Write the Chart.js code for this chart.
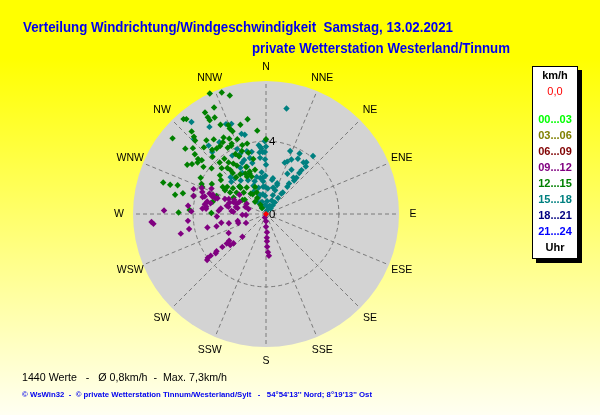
<!DOCTYPE html>
<html>
<head>
<meta charset="utf-8">
<script src="https://cdn.jsdelivr.net/npm/chart.js@4/dist/chart.umd.min.js"></script>
<style>
  body { margin: 0; }
  #wrap {
    width: 600px; height: 415px;
    background: linear-gradient(#ffff00 0%, #ffff00 14%, #fffff2 100%);
  }
</style>
</head>
<body>
<div id="wrap"><canvas id="rose" width="600" height="415"></canvas></div>
<script>
// wind rose, 13.02.2021 - direction in degrees (0 = N), speed in km/h
const directions = ["N", "NNE", "NE", "ENE", "E", "ESE", "SE", "SSE",
  "S", "SSW", "SW", "WSW", "W", "WNW", "NW", "NNW"];
const ringTicks = [0, 4];
const maxSpeed = 7.3;

const periodLabels = ["00...03", "03...06", "06...09", "09...12", "12...15", "15...18", "18...21", "21...24"];
const periodColors = ["#00ff00", "#808000", "#800000", "#800080", "#008000", "#008080", "#000080", "#0000ff"];

// calm values (0,0)
const calmDir = [0];
const calmSpeed = [0];

const dir0003 = [], speed0003 = [];
const dir0306 = [], speed0306 = [];
const dir0609 = [], speed0609 = [];

const dir0912 = [272, 266, 265, 276, 272, 265, 259, 257, 284, 285, 279, 282, 281, 288, 275, 275,
  274, 267, 259, 257, 256, 256, 243, 256, 252, 246, 287, 290, 294, 289, 282, 295, 281, 275, 289,
  286, 267, 226, 228, 233, 234, 229, 233, 233, 232, 233, 233, 232, 198, 180, 180, 177, 178, 178,
  178, 177, 176, 289, 292, 289, 286, 290, 295, 290, 287, 277, 277, 292, 283, 282, 274, 306, 290,
  288, 298, 268];
const speed0912 = [5.6, 6.3, 6.2, 4.3, 4.1, 4.3, 4.3, 4.8, 4.1, 3.6, 3.4, 3.3, 3.1, 3.1, 3.5, 3.3,
  2.6, 2.7, 2.5, 3.3, 2.8, 2.1, 2.3, 1.6, 1.6, 1.2, 2.1, 1.9, 1.9, 1.7, 1.6, 1.6, 2.1, 1.9, 1.2,
  1.0, 1.1, 1.8, 2.4, 2.7, 2.5, 2.6, 3.0, 3.4, 3.5, 3.8, 4.0, 4.1, 0.2, 0.4, 0.7, 1.0, 1.3, 1.5,
  1.8, 2.1, 2.3, 4.2, 3.8, 3.7, 3.5, 3.3, 3.3, 3.1, 2.9, 3.3, 2.5, 2.2, 1.7, 2.2, 1.8, 1.8, 2.4,
  2.8, 1.2, 1.3];

const dir1215 = [335, 340, 343, 334, 329, 329, 329, 332, 319, 320, 349, 333, 344, 337, 337, 354,
  318, 309, 338, 339, 317, 316, 321, 325, 331, 329, 326, 334, 334, 341, 345, 0, 309, 312, 317,
  320, 323, 330, 333, 333, 339, 335, 344, 347, 310, 309, 307, 310, 307, 302, 304, 317, 310, 318,
  323, 324, 327, 329, 316, 299, 310, 320, 321, 321, 321, 327, 337, 338, 333, 339, 346, 287, 287,
  288, 282, 284, 284, 295, 299, 293, 307, 302, 300, 305, 301, 308, 306, 316, 314, 324, 323, 338,
  337, 290, 283, 273, 271, 271, 301, 297, 329, 326, 331, 326, 318, 304, 316, 333, 339];
const speed1215 = [7.3, 7.1, 6.8, 6.5, 6.5, 6.2, 6.0, 6.0, 6.9, 6.8, 5.3, 5.5, 5.1, 5.3, 5.1, 4.6,
  6.1, 6.6, 4.9, 4.4, 5.8, 5.6, 5.2, 5.0, 4.8, 4.6, 4.5, 4.6, 4.3, 4.0, 4.0, 4.1, 5.7, 5.4, 5.0,
  4.6, 4.5, 4.2, 4.2, 3.7, 3.7, 3.5, 3.5, 3.1, 5.1, 4.8, 4.7, 4.6, 4.3, 5.1, 4.9, 4.3, 3.9, 3.8,
  3.8, 3.5, 3.3, 3.1, 3.5, 4.1, 3.3, 3.3, 3.1, 2.9, 2.6, 2.6, 2.8, 2.4, 2.3, 2.2, 2.5, 5.9, 5.5,
  5.1, 5.1, 4.7, 4.1, 3.9, 3.4, 3.8, 3.1, 2.8, 2.6, 2.6, 2.3, 2.3, 2.0, 2.1, 1.7, 1.8, 1.4, 1.6,
  1.3, 2.9, 3.0, 4.2, 4.8, 3.0, 1.5, 2.0, 0.6, 0.4, 1.0, 1.3, 0.9, 1.4, 2.0, 2.5, 2.5];

const dir1518 = [11, 39, 29, 30, 36, 40, 38, 39, 39, 40, 40, 21, 22, 30, 28, 37, 37, 38, 38, 37,
  37, 37, 38, 40, 21, 21, 20, 23, 24, 11, 359, 0, 359, 359, 0, 359, 355, 358, 355, 354, 354, 354,
  355, 346, 341, 343, 326, 330, 357, 5, 18, 331, 345, 321, 327, 336, 339, 343, 345, 316, 320, 327,
  336, 337, 338, 343, 344, 354, 356, 357, 330, 323, 332, 336, 344, 338, 20, 25, 10, 15, 20, 319,
  330, 335, 335, 331, 347, 316, 313, 319, 316, 351, 354, 4, 342, 354, 14, 335, 351];
const speed1518 = [5.9, 4.1, 3.8, 3.5, 3.5, 3.4, 3.6, 3.1, 2.9, 2.6, 2.4, 3.7, 3.1, 2.8, 2.5, 2.5,
  2.1, 1.9, 1.5, 1.4, 1.1, 0.8, 0.6, 0.4, 1.7, 1.4, 1.1, 0.8, 0.5, 2.0, 4.0, 3.7, 3.4, 3.0, 2.7,
  2.1, 1.8, 1.5, 3.7, 3.4, 3.1, 2.3, 2.0, 2.1, 1.9, 1.1, 0.8, 0.4, 1.0, 0.7, 0.4, 1.4, 2.9, 6.5,
  5.7, 5.4, 5.3, 4.6, 4.5, 5.7, 4.9, 4.7, 3.9, 3.6, 3.2, 3.6, 3.2, 3.8, 3.6, 3.4, 2.6, 2.3, 2.1,
  1.7, 1.5, 2.8, 3.0, 3.3, 1.9, 1.5, 1.8, 4.5, 3.7, 3.5, 3.1, 2.9, 3.5, 2.8, 2.6, 2.6, 2.1, 2.0,
  1.5, 1.4, 0.7, 0.5, 0.2, 1.0, 1.1];

const dir1821 = [], speed1821 = [];
const dir2124 = [], speed2124 = [];

const periodDirs = [dir0003, dir0306, dir0609, dir0912, dir1215, dir1518, dir1821, dir2124];
const periodSpeeds = [speed0003, speed0306, speed0609, speed0912, speed1215, speed1518, speed1821, speed2124];

function toXY(dirs, speeds) {
  return dirs.map((d, i) => {
    const a = d * Math.PI / 180;
    return { x: speeds[i] * Math.sin(a), y: speeds[i] * Math.cos(a) };
  });
}

const datasets = periodLabels.map((label, i) => ({
  label: label,
  data: toXY(periodDirs[i], periodSpeeds[i]),
  backgroundColor: periodColors[i],
  borderWidth: 0,
  pointStyle: "rectRot",
  pointRadius: 3.2,
  order: i + 1,
}));
datasets.push({
  label: "0,0",
  data: toXY(calmDir, calmSpeed),
  backgroundColor: "#ff0000",
  borderWidth: 0,
  pointStyle: "rectRot",
  pointRadius: 3,
  order: 0,
});

const FONT = "'Liberation Sans', Arial, sans-serif";

const rosePlugin = {
  id: "rose",
  beforeDatasetsDraw(chart) {
    const { ctx } = chart;
    const x = chart.scales.x, y = chart.scales.y;
    const cx = x.getPixelForValue(0), cy = y.getPixelForValue(0);
    const R = x.getPixelForValue(maxSpeed) - cx;
    ctx.save();
    ctx.fillStyle = "#d3d3d3";
    ctx.beginPath();
    ctx.arc(cx, cy, R, 0, Math.PI * 2);
    ctx.fill();

    ctx.strokeStyle = "#7a7a7a";
    ctx.lineWidth = 1;
    ctx.setLineDash([4, 3]);
    ringTicks.forEach((v) => {
      if (v > 0) {
        ctx.beginPath();
        ctx.arc(cx, cy, x.getPixelForValue(v) - cx, 0, Math.PI * 2);
        ctx.stroke();
      }
    });
    directions.forEach((d, i) => {
      const a = i * 22.5 * Math.PI / 180;
      ctx.beginPath();
      ctx.moveTo(cx, cy);
      ctx.lineTo(cx + R * Math.sin(a), cy - R * Math.cos(a));
      ctx.stroke();
    });
    ctx.setLineDash([]);

    // compass labels
    ctx.fillStyle = "#000";
    ctx.font = "10.5px " + FONT;
    ctx.textAlign = "center";
    ctx.textBaseline = "middle";
    directions.forEach((d, i) => {
      const a = i * 22.5 * Math.PI / 180;
      const r = R + 14;
      ctx.fillText(d, cx + r * Math.sin(a), cy - r * Math.cos(a));
    });

    // ring ticks
    ctx.font = "11.5px " + FONT;
    ctx.textAlign = "left";
    ringTicks.forEach((v) => {
      ctx.fillText(String(v), cx + 3, y.getPixelForValue(v) + 0.5);
    });
    ctx.restore();
  },
  afterDraw(chart) {
    const { ctx } = chart;
    ctx.save();
    // titles
    ctx.fillStyle = "#0000ee";
    ctx.font = "bold 14px " + FONT;
    ctx.textAlign = "left";
    ctx.textBaseline = "alphabetic";
    ctx.fillText("Verteilung Windrichtung/Windgeschwindigkeit  Samstag, 13.02.2021", 23, 32, 430);
    ctx.fillText("private Wetterstation Westerland/Tinnum", 252, 53, 258);

    // footer
    ctx.fillStyle = "#000";
    ctx.font = "11px " + FONT;
    ctx.fillText("1440 Werte   -   \u00D8 0,8km/h  -  Max. 7,3km/h", 22, 381, 205);
    ctx.fillStyle = "#0000ee";
    ctx.font = "bold 8px " + FONT;
    ctx.fillText("\u00A9 WsWin32  -  \u00A9 private Wetterstation Tinnum/Westerland/Sylt   -   54\u00B054'13'' Nord; 8\u00B019'13'' Ost", 22, 397, 350);

    // legend box
    const bx = 532, by = 66, bw = 46, bh = 193;
    ctx.fillStyle = "#000";
    ctx.fillRect(bx + 4, by + 4, bw, bh);
    ctx.fillStyle = "#fff";
    ctx.fillRect(bx, by, bw, bh);
    ctx.strokeStyle = "#000";
    ctx.lineWidth = 1;
    ctx.strokeRect(bx + 0.5, by + 0.5, bw - 1, bh - 1);

    const mx = bx + bw / 2;
    ctx.textAlign = "center";
    ctx.textBaseline = "middle";
    ctx.fillStyle = "#000";
    ctx.font = "bold 11px " + FONT;
    ctx.fillText("km/h", mx, 76);
    ctx.fillStyle = "#ff0000";
    ctx.font = "11px " + FONT;
    ctx.fillText("0,0", mx, 92);
    ctx.font = "bold 11px " + FONT;
    periodLabels.forEach((l, i) => {
      ctx.fillStyle = periodColors[i];
      ctx.fillText(l, mx, 119.5 + i * 16.05);
    });
    ctx.fillStyle = "#000";
    ctx.fillText("Uhr", mx, 248);
    ctx.restore();
  },
};

new Chart(document.getElementById("rose"), {
  type: "scatter",
  data: { datasets: datasets },
  options: {
    responsive: false,
    animation: false,
    layout: { padding: { left: 133, right: 201, top: 81, bottom: 68 } },
    scales: {
      x: { display: false, min: -maxSpeed, max: maxSpeed },
      y: { display: false, min: -maxSpeed, max: maxSpeed },
    },
    plugins: {
      legend: { display: false },
      tooltip: { enabled: false },
    },
  },
  plugins: [rosePlugin],
});
</script>
</body>
</html>
